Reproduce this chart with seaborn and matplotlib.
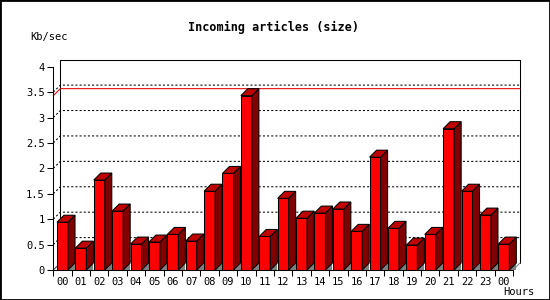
import numpy as np
import pandas as pd
import matplotlib
matplotlib.use("Agg")
import matplotlib.pyplot as plt
from matplotlib.patches import Polygon, Rectangle
import seaborn as sns

# ---- data ----
hours = ["00", "01", "02", "03", "04", "05", "06", "07", "08", "09", "10", "11",
         "12", "13", "14", "15", "16", "17", "18", "19", "20", "21", "22", "23", "00"]
kb_per_sec = [0.94, 0.43, 1.77, 1.16, 0.51, 0.55, 0.70, 0.57, 1.55, 1.90, 3.43, 0.66,
              1.41, 1.02, 1.12, 1.20, 0.76, 2.22, 0.82, 0.49, 0.70, 2.78, 1.55, 1.08, 0.51]
y_ticks = [0, 0.5, 1, 1.5, 2, 2.5, 3, 3.5, 4]
y_tick_labels = ["0", "0.5", "1", "1.5", "2", "2.5", "3", "3.5", "4"]
title = "Incoming articles (size)"
y_unit = "Kb/sec"
x_unit = "Hours"

sns.set_style("ticks")
plt.rcParams["font.family"] = ["DejaVu Sans Mono"]

W, H = 550, 300
fig = plt.figure(figsize=(W / 100, H / 100), dpi=100)
fig.patch.set_facecolor("white")
ax = fig.add_axes([53.3 / W, (H - 270) / H, (513 - 53.3) / W, (270 - 66.7) / H])
ax.set_facecolor("none")

n = len(hours)
df = pd.DataFrame({"slot": list(range(n)), "value": kb_per_sec})
sns.barplot(data=df, x="slot", y="value", color="#ff0000", saturation=1,
            width=0.6, edgecolor="black", linewidth=0.75, ax=ax, zorder=5)
ax.set_xlim(-0.5, n - 0.5)
ax.set_ylim(0, 4)
ax.set_xlabel("")
ax.set_ylabel("")

# pixel depth -> data units
depth_px = 7
dx = depth_px / (ax.bbox.width / n)
dy = depth_px / (ax.bbox.height / 4)

xl, xr = -0.5, n - 0.5
lw = 0.75
# back panel
ax.plot([xl + dx, xl + dx, xr + dx, xr + dx], [dy, 4 + dy, 4 + dy, dy],
        color="black", lw=lw, clip_on=False, zorder=1)
# floor diagonals
ax.plot([xl, xl + dx], [0, dy], color="#404040", lw=lw, clip_on=False, zorder=1)
ax.plot([xr, xr + dx], [0, dy], color="#808080", lw=lw, clip_on=False, zorder=1)
# dotted grid
for v in y_ticks[1:-1]:
    ax.plot([xl, xl + dx, xr + dx], [v, v + dy, v + dy], color="black", lw=lw,
            ls=(0, (2, 2)), clip_on=False, zorder=1)
# max line
vmax = max(kb_per_sec)
ax.plot([xl, xl + dx, xr + dx], [vmax, vmax + dy, vmax + dy], color="#e00000",
        lw=lw, clip_on=False, zorder=2)

# 3D faces from bar patches
for p in list(ax.patches):
    x0, w, h = p.get_x(), p.get_width(), p.get_height()
    x1 = x0 + w
    ax.add_patch(Polygon([(x1, 0), (x1 + dx, 0), (x1 + dx, dy)], closed=True,
                         facecolor="#808080", edgecolor="none", zorder=4, clip_on=False))
    ax.add_patch(Polygon([(x1, 0), (x1 + dx, dy), (x1 + dx, h + dy), (x1, h)], closed=True,
                         facecolor="#800000", edgecolor="black", lw=lw, zorder=6, clip_on=False))
    ax.add_patch(Polygon([(x0, h), (x0 + dx, h + dy), (x1 + dx, h + dy), (x1, h)], closed=True,
                         facecolor="#c00000", edgecolor="black", lw=lw, zorder=6, clip_on=False))

# spines & ticks
for s in ["top", "right"]:
    ax.spines[s].set_visible(False)
for s in ["left", "bottom"]:
    ax.spines[s].set_color("black")
    ax.spines[s].set_linewidth(lw)
    ax.spines[s].set_zorder(7)

ax.set_yticks(y_ticks)
ax.set_yticklabels(y_tick_labels)
ax.tick_params(axis="y", left=True, length=4, width=lw, direction="out", pad=2,
               labelsize=7.5, color="black", labelcolor="black")
ax.set_xticks(list(range(n)))
ax.set_xticklabels(hours)
ax.set_xticks(np.arange(-0.5, n, 1.0), minor=True)
ax.tick_params(axis="x", which="major", bottom=True, length=0, pad=5,
               labelsize=7.5, labelcolor="black")
ax.tick_params(axis="x", which="minor", bottom=True, length=4, width=lw,
               direction="out", color="black")

fig.text(274 / W, 1 - 27 / H, title, ha="center", va="center",
         fontsize=8.5, fontweight="bold", color="black")
fig.text(30 / W, 1 - 37 / H, y_unit, ha="left", va="center", fontsize=7.5, color="black")
fig.text(503 / W, 1 - 292 / H, x_unit, ha="left", va="center", fontsize=7.5, color="black")

fig.patches.append(Rectangle((0, 0), 1, 1, transform=fig.transFigure, fill=False,
                             edgecolor="black", lw=2.0, zorder=10))

fig.savefig("out.png", dpi=100)
